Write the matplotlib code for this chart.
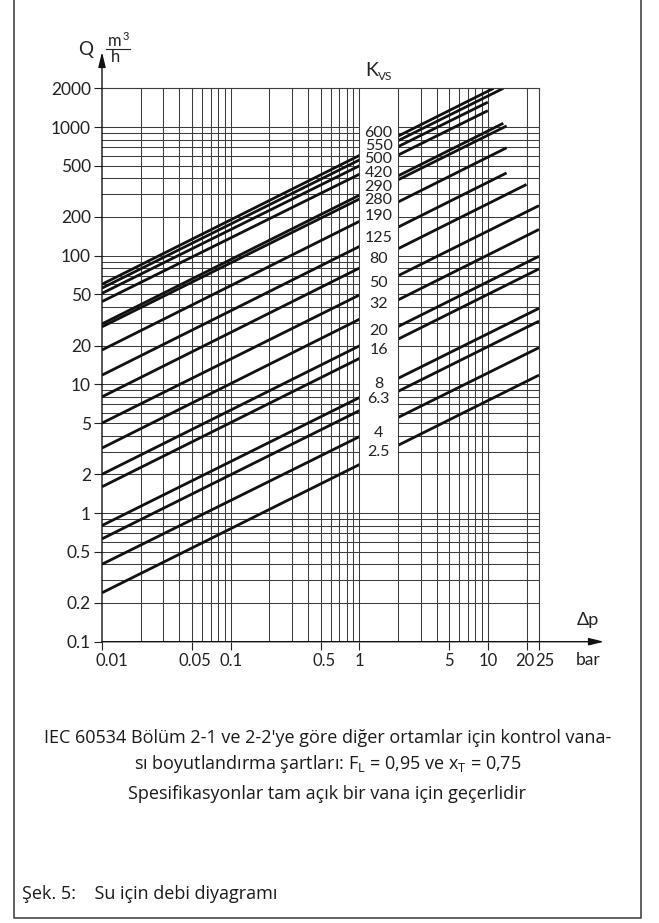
import numpy as np
import matplotlib
matplotlib.use("Agg")
import matplotlib.pyplot as plt
import matplotlib.transforms as mtransforms
from matplotlib.patches import Rectangle
from matplotlib.lines import Line2D
from matplotlib.ticker import FixedLocator, NullLocator

# Kvs lines: start at dp = 0.01, end point (dp_end, q_end)
kvs_labels = ["600", "550", "500", "420", "290", "280", "190", "125", "80",
              "50", "32", "20", "16", "8", "6.3", "4", "2.5"]
q_start = [60, 56, 51, 44, 29.5, 28, 18.5, 11.8, 8, 5, 3.2, 2, 1.6, 0.8, 0.63, 0.4, 0.24]
dp_end = [11.1, 13.2, 10, 10, 13.2, 14, 14, 14, 20, 25, 25, 25, 25, 25, 25, 25, 25]
q_end = [2000, 2000, 1560, 1340, 1070, 1020, 690, 440, 358, 245, 160, 99, 79, 39, 31, 19.3, 11.8]
dp_start = 0.01

# where the Kvs labels sit inside the white column (layout)
label_pos_q = [894, 712, 561, 442, 344, 271, 204, 137, 94, 61, 42, 26.2, 18.5,
               10.1, 7.7, 4.2, 2.97]

xticks = [0.01, 0.05, 0.1, 0.5, 1, 5, 10, 20, 25]
xticklabels = ["0.01", "0.05", "0.1", "0.5", "1", "5", "10", "20", "25"]
yticks = [0.1, 0.2, 0.5, 1, 2, 5, 10, 20, 50, 100, 200, 500, 1000, 2000]
yticklabels = ["0.1", "0.2", "0.5", "1", "2", "5", "10", "20", "50", "100",
               "200", "500", "1000", "2000"]

caption1 = "IEC 60534 Bölüm 2-1 ve 2-2'ye göre diğer ortamlar için kontrol vana-"
caption2 = r"sı boyutlandırma şartları: F$_{\mathrm{L}}$ = 0,95 ve x$_{\mathrm{T}}$ = 0,75"
caption3 = "Spesifikasyonlar tam açık bir vana için geçerlidir"
fig_title = "Şek. 5:    Su için debi diyagramı"

plt.rcParams['mathtext.fontset'] = 'custom'
plt.rcParams['mathtext.rm'] = 'Open Sans'
plt.rcParams['mathtext.it'] = 'Open Sans'

W, H = 659, 923
fig = plt.figure(figsize=(W / 100, H / 100), dpi=100)


def fx(px):
    return px / W


def fy(py):
    return 1 - py / H


left, right, top, bottom = 102, 539, 88.3, 641.7
ax = fig.add_axes([fx(left), fy(bottom), (right - left) / W, (bottom - top) / H])
ax.set_xscale('log')
ax.set_yscale('log')
ax.set_xlim(0.01, 25)
ax.set_ylim(0.1, 2000)

gridc = '#3c3c3c'
# grid: 1..9 per decade
for e in range(-2, 2):
    for m in range(1, 10):
        v = m * 10.0 ** e
        if 0.01 < v < 25:
            ax.axvline(v, color=gridc, lw=0.75, zorder=1)
for e in range(-1, 4):
    for m in range(1, 10):
        v = m * 10.0 ** e
        if 0.1 < v < 2000:
            ax.axhline(v, color=gridc, lw=0.75, zorder=1)

for i in range(len(kvs_labels)):
    ax.plot([dp_start, dp_end[i]], [q_start[i], q_end[i]], color='#111111',
            lw=2.0, solid_capstyle='butt', zorder=2)

# white label column between 1 and 2 bar
ax.add_patch(Rectangle((1, 2), 1, 1998, facecolor='white', edgecolor=gridc,
                       lw=0.75, zorder=3))
for lab, q in zip(kvs_labels, label_pos_q):
    ax.text(1.414, q, lab, ha='center', va='center', fontsize=11.5,
            family='Lato', color='#222222', zorder=4)

for s in ['left', 'bottom']:
    ax.spines[s].set_visible(False)
for s in ['top', 'right']:
    ax.spines[s].set_color(gridc)
    ax.spines[s].set_linewidth(0.8)

ax.xaxis.set_major_locator(FixedLocator(xticks))
ax.xaxis.set_minor_locator(NullLocator())
ax.yaxis.set_major_locator(FixedLocator(yticks))
ax.yaxis.set_minor_locator(NullLocator())
ax.set_xticklabels(xticklabels)
ax.set_yticklabels(yticklabels)
ax.tick_params(direction='out', length=5.5, width=0.8, color='#222222',
               labelsize=12.5, labelcolor='#222222', pad=2.5)
for t in ax.get_xticklabels() + ax.get_yticklabels():
    t.set_family('Lato')
ax.tick_params(axis='x', labelsize=12)

# nudge crowded x labels like the original
shifts = {"0.01": 10, "0.05": 3, "0.5": 4, "20": -2, "25": 6}
for t in ax.get_xticklabels():
    dx = shifts.get(t.get_text(), 0)
    if dx:
        t.set_transform(t.get_transform() +
                        mtransforms.ScaledTranslation(dx / 100, 0, fig.dpi_scale_trans))

# axis arrows
arr = dict(arrowstyle='-|>,head_length=0.9,head_width=0.22', color='#111111',
           lw=1.0, shrinkA=0, shrinkB=0, mutation_scale=10)
ax.annotate('', xy=(0, (bottom - 52) / (bottom - top)), xytext=(0, 0),
            xycoords='axes fraction', textcoords='axes fraction',
            arrowprops=arr, annotation_clip=False)
ax.annotate('', xy=((604 - left) / (right - left), 0), xytext=(0, 0),
            xycoords='axes fraction', textcoords='axes fraction',
            arrowprops=arr, annotation_clip=False)

lab = dict(family='Lato', color='#222222')
fig.text(fx(85.5), fy(49), "Q", fontsize=13.5, ha='center', va='center', **lab)
fig.text(fx(115), fy(41), "m", fontsize=12, ha='center', va='center', **lab)
fig.text(fx(122.5), fy(37), "3", fontsize=8, ha='left', va='center', **lab)
fig.add_artist(Line2D([fx(106), fx(130)], [fy(48.5), fy(48.5)], color='#222222', lw=0.8))
fig.text(fx(115.5), fy(57), "h", fontsize=12, ha='center', va='center', **lab)
fig.text(fx(372), fy(70), "K", fontsize=14, ha='center', va='center', **lab)
fig.text(fx(377.5), fy(80), "VS", fontsize=8.5, ha='left', va='baseline', **lab)
fig.text(fx(588), fy(620), "Δp", fontsize=13, ha='center', va='center', **lab)
fig.text(fx(588), fy(660), "bar", fontsize=12.5, ha='center', va='center', **lab)

cap = dict(family='Open Sans', color='#1a1a1a', fontsize=13)
cx = fx((14 + 641) / 2)
fig.text(cx, fy(738), caption1, ha='center', va='center', **cap)
fig.text(cx, fy(764), caption2, ha='center', va='center', **cap)
fig.text(cx, fy(794), caption3, ha='center', va='center', **cap)
fig.text(fx(22), fy(894), fig_title, ha='left', va='center', **cap)

# frame around the figure
bc = '#555555'
fig.add_artist(Line2D([fx(14), fx(14), fx(641), fx(641)], [1, fy(918), fy(918), 1],
                      color=bc, lw=1.3))

fig.savefig('out.png', dpi=100)
